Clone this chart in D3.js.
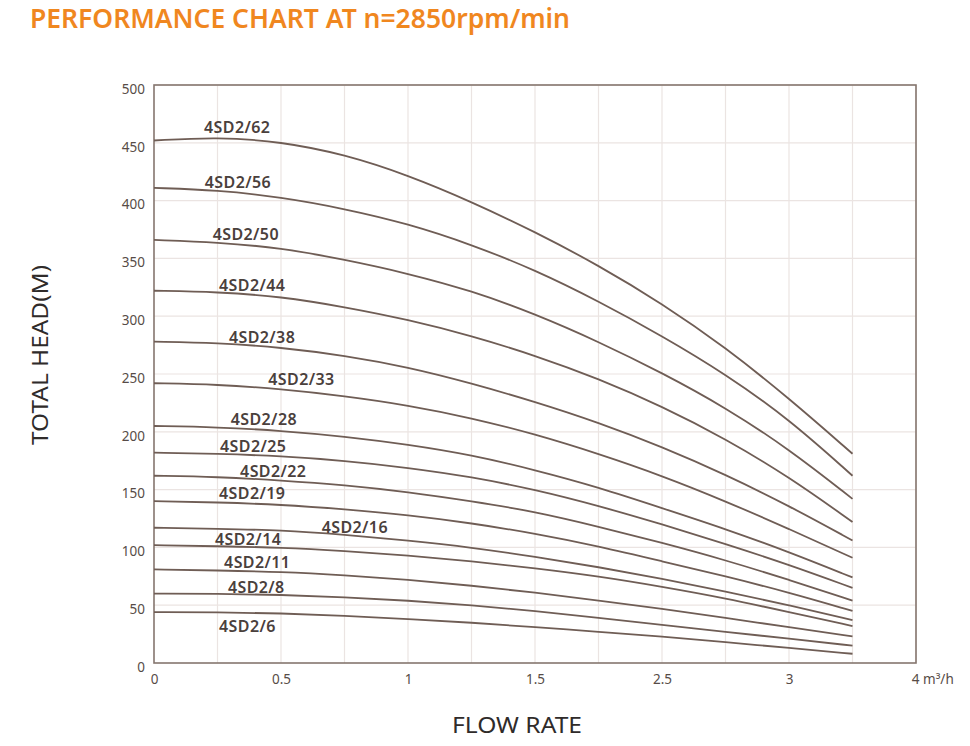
<!DOCTYPE html>
<html>
<head>
<meta charset="utf-8">
<script src="https://cdn.jsdelivr.net/npm/d3@7"></script>
<style>
  html, body { margin: 0; padding: 0; background: #ffffff; }
  svg { display: block; }
  text { font-family: "Noto Sans", "Open Sans", sans-serif; }
</style>
</head>
<body>
<svg id="chart" width="970" height="746"></svg>
<script>
// ---------------- data ----------------
const titleText = "PERFORMANCE CHART AT n=2850rpm/min";
const yAxisTitle = "TOTAL HEAD(M)";
const xAxisTitle = "FLOW RATE";

// flow rate sample points (m³/h) shared by all curves
const flows = [0, 0.25, 0.5, 0.75, 1, 1.25, 1.5, 2, 2.5, 2.75, 3, 3.5];

const models = ["4SD2/62","4SD2/56","4SD2/50","4SD2/44","4SD2/38","4SD2/33","4SD2/28",
                "4SD2/25","4SD2/22","4SD2/19","4SD2/16","4SD2/14","4SD2/11","4SD2/8","4SD2/6"];

const head62 = [452, 455, 451, 440, 422, 399, 373, 344, 311, 273, 229, 181];
const head56 = [411, 409, 403, 393, 380, 362, 340, 313, 283, 250, 211, 162];
const head50 = [366, 364, 359, 349, 337, 322, 302, 278, 251, 221, 185, 142];
const head44 = [322, 321, 317, 308, 297, 283, 266, 246, 222, 194, 161, 122];
const head38 = [278, 277, 273, 266, 256, 242, 226, 208, 187, 163, 136, 106];
const head33 = [242, 241, 237, 231, 223, 212, 198, 181, 162, 140, 116, 91];
const head28 = [205, 204, 201, 196, 189, 180, 167, 152, 134, 116, 96, 74];
const head25 = [182, 181, 179, 175, 169, 161, 150, 136, 120, 103, 85, 65];
const head22 = [162, 161, 158, 154, 148, 140, 131, 118, 104, 89, 72, 54];
const head19 = [140, 139, 137, 133, 128, 121, 112, 101, 88, 75, 61, 45];
const head16 = [117, 116, 115, 111, 106, 100, 92, 83, 73, 62, 50, 37];
const head14 = [102, 101, 100, 97, 93, 88, 82, 75, 66, 56, 44, 32];
const head11 = [81, 80, 79, 76, 72, 67, 61, 54, 47, 39, 31, 23];
const head8  = [60, 60, 59, 57, 54, 50, 45, 39, 33, 27, 21, 15];
const head6  = [44, 44, 43, 41, 38, 35, 31, 27, 23, 18, 13, 8];

const heads = [head62, head56, head50, head44, head38, head33, head28,
               head25, head22, head19, head16, head14, head11, head8, head6];

// label anchor points in data units (flow, head)
const labelFlow = [0.197, 0.2, 0.231, 0.256, 0.295, 0.45, 0.302, 0.26, 0.339, 0.256, 0.66, 0.24, 0.276, 0.291, 0.256];
const labelHead = [458.5, 410.9, 365.9, 321.8, 276.8, 240.5, 205.9, 182.5, 160.9, 141.9, 112.5, 102.1, 82.2, 60.6, 26.8];

// axis ticks as printed on the original chart (non-uniform flow axis)
const xTickValues = [0, 0.5, 1, 1.5, 2.5, 3, 4];
const xTickLabels = ["0", "0.5", "1", "1.5", "2.5", "3", "4 m³/h"];
const xGridValues = [0.25, 0.5, 0.75, 1, 1.25, 1.5, 2, 2.5, 2.75, 3, 3.5, 4];
const yTickValues = [0, 50, 100, 150, 200, 250, 300, 350, 400, 450, 500];

// ---------------- layout ----------------
const plot = { left: 154, right: 916, top: 85, bottom: 663 };
const colW = (plot.right - plot.left) / 12;
const colours = {
  title: "#f0871f", curve: "#6f5d55", frame: "#85766f",
  grid: "#ebe4e2", tick: "#574c47", label: "#4a403c", axisTitle: "#2f2b2a"
};

const svg = d3.select("#chart");

// piecewise-linear x scale reproducing the original's uneven tick spacing
const x = d3.scaleLinear()
  .domain(xTickValues)
  .range(xTickValues.map((d, i) => plot.left + i * 2 * colW));
const y = d3.scaleLinear().domain([0, 500]).range([plot.bottom, plot.top]);

// grid
const grid = svg.append("g");
grid.selectAll("line.v").data(xGridValues).join("line")
  .attr("x1", d => x(d)).attr("x2", d => x(d))
  .attr("y1", plot.top).attr("y2", plot.bottom)
  .attr("stroke", colours.grid).attr("stroke-width", 1.2);
grid.selectAll("line.h").data(yTickValues.slice(1)).join("line")
  .attr("x1", plot.left).attr("x2", plot.right)
  .attr("y1", d => y(d)).attr("y2", d => y(d))
  .attr("stroke", colours.grid).attr("stroke-width", 1.2);

// frame
svg.append("rect")
  .attr("x", plot.left).attr("y", plot.top)
  .attr("width", plot.right - plot.left).attr("height", plot.bottom - plot.top)
  .attr("fill", "none").attr("stroke", colours.frame).attr("stroke-width", 1.6);

// y ticks
const yAxis = d3.axisLeft(y).tickValues(yTickValues).tickSize(0).tickPadding(9);
const gy = svg.append("g").attr("transform", `translate(${plot.left},0)`).call(yAxis);
gy.select(".domain").remove();
gy.selectAll("text").attr("font-size", 13.5).attr("fill", colours.tick)
  .attr("font-family", "'Noto Sans', sans-serif").attr("dy", "0.62em");

// x ticks
const xAxis = d3.axisBottom(x).tickValues(xTickValues).tickSize(0).tickPadding(11)
  .tickFormat((d, i) => xTickLabels[i]);
const gx = svg.append("g").attr("transform", `translate(0,${plot.bottom})`).call(xAxis);
gx.select(".domain").remove();
gx.selectAll("text").attr("font-size", 13.5).attr("fill", colours.tick)
  .attr("font-family", "'Noto Sans', sans-serif")
  .attr("text-anchor", (d, i) => i === xTickValues.length - 1 ? "start" : "middle")
  .attr("dx", (d, i) => i === xTickValues.length - 1 ? "-0.35em" : 0);

// curves
const line = d3.line()
  .x((d, i) => x(flows[i]))
  .y(d => y(d))
  .curve(d3.curveBasis);
svg.append("g").selectAll("path").data(heads).join("path")
  .attr("d", d => line(d))
  .attr("fill", "none").attr("stroke", colours.curve).attr("stroke-width", 1.8);

// curve labels
svg.append("g").selectAll("text").data(models).join("text")
  .attr("x", (d, i) => x(labelFlow[i]))
  .attr("y", (d, i) => y(labelHead[i]))
  .attr("font-size", 16).attr("font-weight", 600)
  .attr("letter-spacing", 0.4)
  .attr("fill", colours.label)
  .text(d => d);

// title
svg.append("text")
  .attr("x", 30).attr("y", 28)
  .attr("font-size", 27).attr("font-weight", 600)
  .attr("fill", colours.title)
  .attr("textLength", 540).attr("lengthAdjust", "spacingAndGlyphs")
  .text(titleText);

// axis titles
svg.append("text")
  .attr("transform", "translate(48,355) rotate(-90)")
  .attr("text-anchor", "middle")
  .attr("font-size", 22).attr("fill", colours.axisTitle)
  .attr("textLength", 180).attr("lengthAdjust", "spacingAndGlyphs")
  .text(yAxisTitle);
svg.append("text")
  .attr("x", 517).attr("y", 733)
  .attr("text-anchor", "middle")
  .attr("font-size", 22).attr("fill", colours.axisTitle)
  .attr("textLength", 130).attr("lengthAdjust", "spacingAndGlyphs")
  .text(xAxisTitle);
</script>
</body>
</html>
